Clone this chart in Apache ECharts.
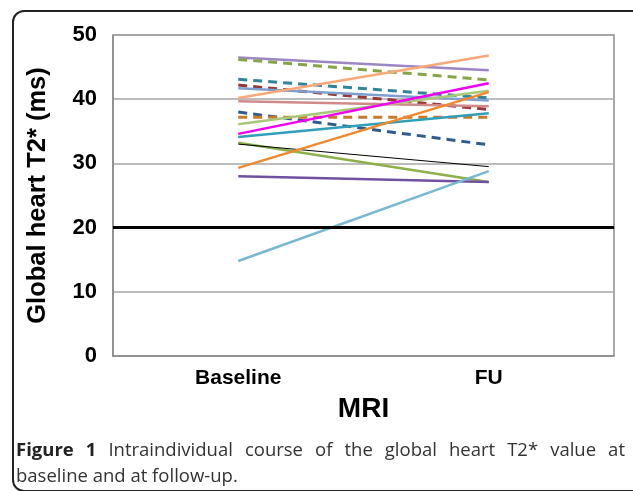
<!DOCTYPE html>
<html>

<head>
    <meta charset="UTF-8">
    <style type="text/css">
        body {
            margin: 0;
            padding: 0;
            overflow: hidden;
            background: #fff;
        }

        #chart {
            position: absolute;
            left: 0;
            top: 0;
            width: 633px;
            height: 491px;
        }

        #frame {
            position: absolute;
            left: 12px;
            top: 10px;
            width: 640px;
            height: 478px;
            border: 2px solid #222;
            border-radius: 12px;
            pointer-events: none;
        }

        #caption {
            position: absolute;
            left: 16px;
            top: 436px;
            width: 609px;
            font-family: "Open Sans", sans-serif;
            font-size: 18.5px;
            line-height: 26px;
            color: #333;
        }

        .justify {
            text-align: justify;
            text-align-last: justify;
        }
    </style>
</head>

<body>
    <div id="chart"></div>
    <div id="frame"></div>
    <div id="caption">
        <div class="justify"><b style="color:#222">Figure 1</b> Intraindividual course of the global heart T2* value at</div>
        <div>baseline and at follow-up.</div>
    </div>
    <script src="https://cdn.jsdelivr.net/npm/echarts@6/dist/echarts.min.js"></script>
    <script>
        let categories = ['Baseline', 'FU'];
        // T2* (ms) per patient, baseline and follow-up
        let baseline = [46.5, 46.2, 43.1, 42.2, 41.7, 40.2, 39.7, 38.0, 37.2, 36.1, 34.6, 34.1, 33.2, 33.0, 29.3, 28.0, 14.8];
        let followUp = [44.5, 43.0, 40.2, 38.4, 39.8, 46.8, 38.9, 32.9, 37.2, 41.3, 42.5, 37.8, 27.1, 29.5, 41.1, 27.1, 28.8];
        let threshold = 20;

        let COLORS = ['#9c86c4', '#86a447', '#31849b', '#953735', '#7f9fcf', '#f9a878', '#d08a8a', '#2e5c8e',
            '#c8792a', '#a8c878', '#f000f0', '#30a0b8', '#8db04a', '#000000', '#f08830', '#7050a0', '#78b8d0'];
        let DASHED = [false, true, true, true, false, false, false, true, true, false, false, false, false, false, false, false, false];

        var myChart = echarts.init(document.getElementById('chart'));

        let series = baseline.map((b, i) => {
            return {
                type: 'line',
                data: [b, followUp[i]],
                symbol: 'none',
                silent: true,
                lineStyle: {
                    color: COLORS[i],
                    width: COLORS[i] === '#000000' ? 1 : (DASHED[i] ? 3 : 2.5),
                    type: DASHED[i] ? [9, 6] : 'solid'
                }
            };
        });
        series.push({
            type: 'line',
            data: [],
            markLine: {
                silent: true,
                symbol: 'none',
                label: { show: false },
                lineStyle: { color: '#000', width: 3, type: 'solid' },
                data: [{ yAxis: threshold }]
            }
        });

        let option = {
            animation: false,
            grid: {
                left: 113,
                right: 19,
                top: 35,
                bottom: 135,
                show: true,
                borderColor: '#8c8c8c',
                borderWidth: 1.5
            },
            xAxis: {
                type: 'category',
                data: categories,
                boundaryGap: true,
                axisTick: { show: false },
                axisLine: { lineStyle: { color: '#8c8c8c', width: 1.5 } },
                axisLabel: {
                    color: '#000',
                    fontFamily: 'Liberation Sans',
                    fontWeight: 'bold',
                    fontSize: 21,
                    margin: 12
                },
                name: 'MRI',
                nameLocation: 'middle',
                nameGap: 39,
                nameTextStyle: {
                    color: '#000',
                    fontFamily: 'Liberation Sans',
                    fontWeight: 'bold',
                    fontSize: 28
                }
            },
            yAxis: {
                type: 'value',
                min: 0,
                max: 50,
                interval: 10,
                axisTick: { show: false },
                axisLine: { show: true, lineStyle: { color: '#8c8c8c', width: 1.5 } },
                splitLine: { lineStyle: { color: '#a6a6a6', width: 1.5 } },
                axisLabel: {
                    color: '#000',
                    fontFamily: 'Liberation Sans',
                    fontWeight: 'bold',
                    fontSize: 22,
                    margin: 16
                },
                name: 'Global heart T2* (ms)',
                nameLocation: 'middle',
                nameGap: 62,
                nameTextStyle: {
                    color: '#000',
                    fontFamily: 'Liberation Sans',
                    fontWeight: 'bold',
                    fontSize: 25.5
                }
            },
            series: series
        };
        myChart.setOption(option);
    </script>
</body>

</html>
